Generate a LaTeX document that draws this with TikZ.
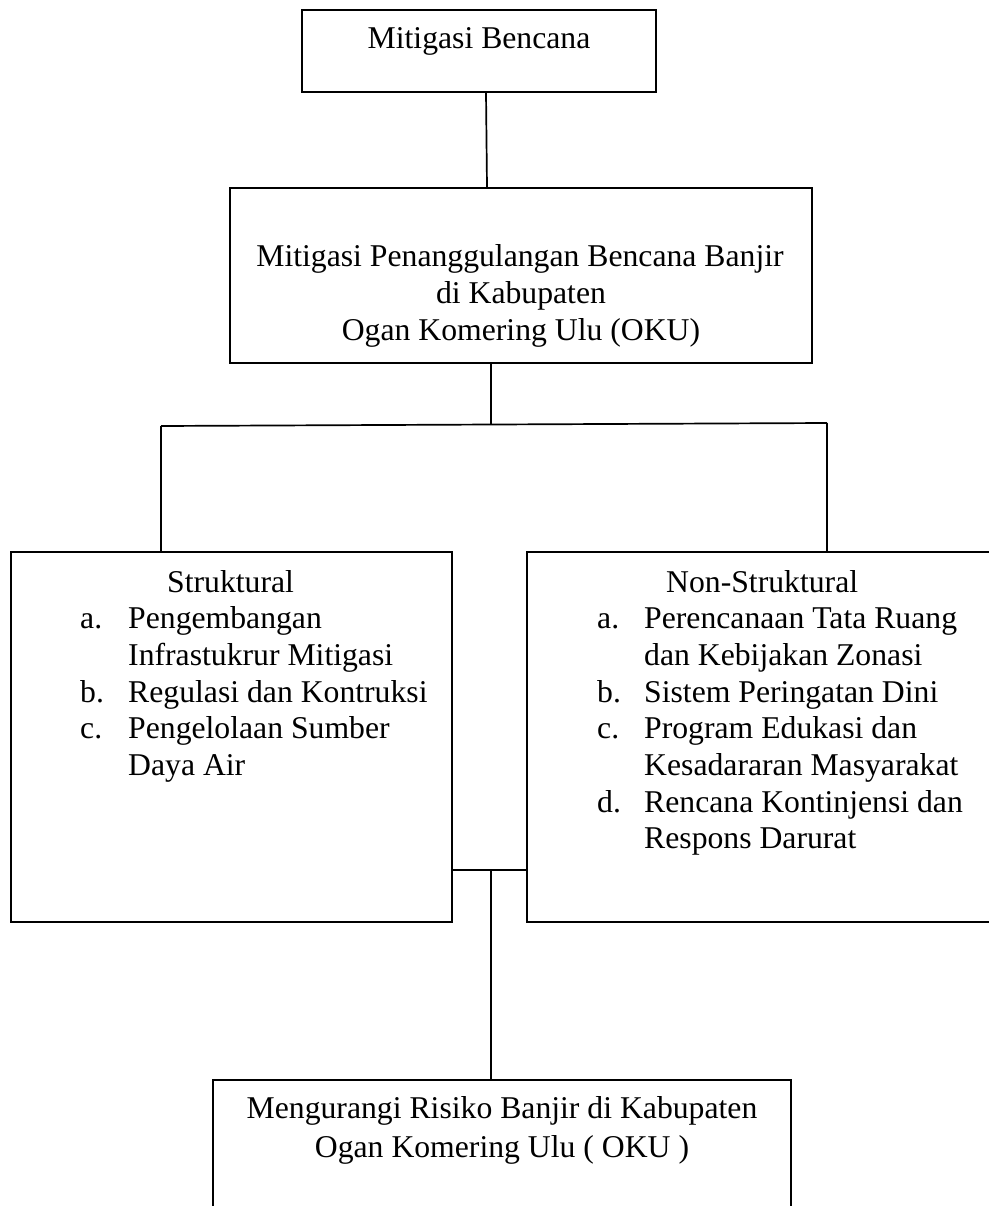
\documentclass[tikz,border=0pt]{standalone}
\usepackage{fontspec}
\setmainfont{Liberation Serif}
\usetikzlibrary{calc}
\begin{document}
\begin{tikzpicture}[x=1pt,y=-1pt,
  box/.style={draw, line width=1.7pt, rectangle, inner sep=0pt},
  conn/.style={line width=1.7pt},
  txt/.style={anchor=base, inner sep=0pt, font=\fontsize{31.7}{36.8}\selectfont},
  itm/.style={anchor=base west, inner sep=0pt, font=\fontsize{31.7}{36.8}\selectfont}]
\useasboundingbox (0,0) rectangle (988,1206);
% boxes
\node[box, minimum width=354pt, minimum height=82pt] (top) at (479,51) {};
\node[box, minimum width=582pt, minimum height=175pt] (mid) at (521,275.5) {};
\node[box, minimum width=441pt, minimum height=370pt] (left) at (231.5,737) {};
\node[box, minimum width=483pt, minimum height=370pt] (right) at (768.5,737) {};
\node[box, minimum width=578pt, minimum height=140pt] (bottom) at (502,1150) {};
% texts
\node[txt] (t0) at (479,49) {Mitigasi Bencana};
\node[txt] (t1) at (520,266) {Mitigasi Penanggulangan Bencana Banjir};
\node[txt] (t2) at (521,303) {di Kabupaten};
\node[txt] (t3) at (521,340) {Ogan Komering Ulu (OKU)};
\node[itm] (s0) at (167,592) {Struktural};
\node[itm] (sa) at (80,628) {a.};
\node[itm] (sa1) at (128,628) {Pengembangan};
\node[itm] (sa2) at (128,665) {Infrastukrur Mitigasi};
\node[itm] (sb) at (80,702) {b.};
\node[itm] (sb1) at (128,702) {Regulasi dan Kontruksi};
\node[itm] (sc) at (80,738) {c.};
\node[itm] (sc1) at (128,738) {Pengelolaan Sumber};
\node[itm] (sc2) at (128,775) {Daya Air};
\node[itm] (n0) at (666,592) {Non-Struktural};
\node[itm] (na) at (597,628) {a.};
\node[itm] (na1) at (644,628) {Perencanaan Tata Ruang};
\node[itm] (na2) at (644,665) {dan Kebijakan Zonasi};
\node[itm] (nb) at (597,702) {b.};
\node[itm] (nb1) at (644,702) {Sistem Peringatan Dini};
\node[itm] (nc) at (597,738) {c.};
\node[itm] (nc1) at (644,738) {Program Edukasi dan};
\node[itm] (nc2) at (644,775) {Kesadararan Masyarakat};
\node[itm] (nd) at (597,812) {d.};
\node[itm] (nd1) at (644,812) {Rencana Kontinjensi dan};
\node[itm] (nd2) at (644,848) {Respons Darurat};
\node[txt] (b1) at (502,1118) {Mengurangi Risiko Banjir di Kabupaten};
\node[txt] (b2) at (502,1157) {Ogan Komering Ulu ( OKU )};
% connectors
\draw[conn] ($(top.south)+(7,0)$) -- ($(mid.north)+(-34,0)$);
\coordinate (hub) at (491,425);
\coordinate (hl) at (161,426);
\coordinate (hr) at (827,423);
\draw[conn] ($(mid.south)+(-30,0)$) -- (hub);
\draw[conn] (hl) -- (hr);
\draw[conn] (hl) -- (hl |- left.north);
\draw[conn] (hr) -- (hr |- right.north);
\coordinate (hub2) at (491,870);
\draw[conn] (left.east |- hub2) -- (right.west |- hub2);
\draw[conn] (hub2) -- (hub2 |- bottom.north);
\end{tikzpicture}
\end{document}
